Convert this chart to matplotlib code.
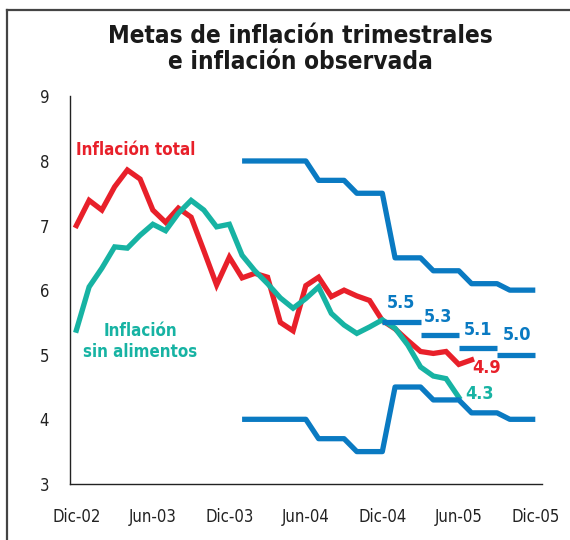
import matplotlib
matplotlib.use("Agg")
import matplotlib.pyplot as plt
from matplotlib.lines import Line2D

plt.rcParams['font.family'] = ['DejaVu Sans']
plt.rcParams['font.stretch'] = 'condensed'

# months counted from Dic-02 (index 0) to Dic-05 (index 36)
tick_pos = [0, 6, 12, 18, 24, 30, 36]
tick_labels = ['Dic-02', 'Jun-03', 'Dic-03', 'Jun-04', 'Dic-04', 'Jun-05', 'Dic-05']

inflacion_total = [7.00, 7.39, 7.24, 7.60, 7.86, 7.72, 7.24, 7.05, 7.27, 7.13,
                   6.61, 6.08, 6.51, 6.19, 6.26, 6.20, 5.50, 5.37, 6.07, 6.20,
                   5.90, 6.00, 5.91, 5.84, 5.53, 5.40, 5.22, 5.05, 5.02, 5.05,
                   4.85, 4.92]

sin_alimentos = [5.38, 6.05, 6.34, 6.67, 6.65, 6.85, 7.02, 6.92, 7.19, 7.39,
                 7.24, 6.98, 7.02, 6.54, 6.30, 6.10, 5.88, 5.72, 5.87, 6.05,
                 5.64, 5.46, 5.33, 5.43, 5.54, 5.41, 5.15, 4.81, 4.67, 4.63,
                 4.34]

# target band, monthly from Ene-04 (index 13) to Dic-05
meta_inicio = 13
meta_sup = [8.0, 8.0, 8.0, 8.0, 8.0, 8.0, 7.7, 7.7, 7.7, 7.5, 7.5, 7.5,
            6.5, 6.5, 6.5, 6.3, 6.3, 6.3, 6.1, 6.1, 6.1, 6.0, 6.0, 6.0]
meta_inf = [4.0, 4.0, 4.0, 4.0, 4.0, 4.0, 3.7, 3.7, 3.7, 3.5, 3.5, 3.5,
            4.5, 4.5, 4.5, 4.3, 4.3, 4.3, 4.1, 4.1, 4.1, 4.0, 4.0, 4.0]

# quarterly point targets for 2005 (start month, end month, value)
meta_desde = [24, 27, 30, 33]
meta_hasta = [27, 30, 33, 36]
meta_puntual = [5.5, 5.3, 5.1, 5.0]

red = '#E8202A'
teal = '#17B3A3'
blue = '#0A7AC2'

fig = plt.figure(figsize=(5.7, 5.4), dpi=100)
ax = fig.add_axes([0.1228, 0.1039, 0.8275, 0.7176])

lw = 3.8
ax.plot(range(len(inflacion_total)), inflacion_total, color=red, lw=lw, solid_joinstyle='miter')
ax.plot(range(len(sin_alimentos)), sin_alimentos, color=teal, lw=lw, solid_joinstyle='miter')
mx = range(meta_inicio, meta_inicio + len(meta_sup))
ax.plot(mx, meta_sup, color=blue, lw=lw, solid_capstyle='butt')
ax.plot(mx, meta_inf, color=blue, lw=lw, solid_capstyle='butt')
for a, b, v in zip(meta_desde, meta_hasta, meta_puntual):
    ax.plot([a, b], [v, v], color=blue, lw=lw, solid_capstyle='butt')

# value labels
lab = dict(fontsize=13, fontweight='bold', ha='center', va='center')
ax.text(25.5, 5.80, '5.5', color=blue, **lab)
ax.text(28.4, 5.59, '5.3', color=blue, **lab)
ax.text(31.5, 5.38, '5.1', color=blue, **lab)
ax.text(34.6, 5.30, '5.0', color=blue, **lab)
ax.text(32.2, 4.79, '4.9', color=red, **lab)
ax.text(31.6, 4.39, '4.3', color=teal, **lab)

ax.text(0.0, 8.17, 'Inflación total', color=red, fontsize=12.2, fontweight='bold',
        ha='left', va='center')
ax.text(5.0, 5.21, 'Inflación\nsin alimentos', color=teal, fontsize=12.2,
        fontweight='bold', ha='center', va='center', linespacing=1.2)

ax.set_xlim(-0.5, 36.5)
ax.set_ylim(3, 9)
ax.set_xticks(tick_pos)
ax.set_xticklabels(tick_labels)
ax.set_yticks(range(3, 10))
ax.tick_params(length=0, labelsize=12, colors='#222222')
ax.tick_params(axis='y', pad=15)
ax.tick_params(axis='x', pad=17)
for s in ['top', 'right']:
    ax.spines[s].set_visible(False)
for s in ['left', 'bottom']:
    ax.spines[s].set_linewidth(1.0)
    ax.spines[s].set_color('#222222')

fig.text(300 / 570, 1 - 49 / 540, 'Metas de inflación trimestrales\ne inflación observada',
         ha='center', va='center', fontsize=17.5, fontweight='bold', color='#1a1a1a',
         linespacing=1.12)

# frame around the chart (top and left only)
fig.add_artist(Line2D([7 / 570, 1], [1 - 10 / 540, 1 - 10 / 540], color='#444444', lw=1.6))
fig.add_artist(Line2D([7 / 570, 7 / 570], [0, 1 - 10 / 540], color='#444444', lw=1.6))

fig.savefig('out.png', dpi=100)
